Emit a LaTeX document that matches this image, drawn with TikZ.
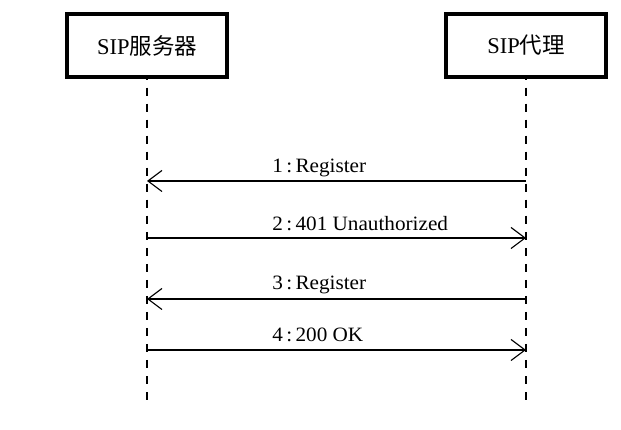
\documentclass[tikz,border=0pt]{standalone}
\usepackage{fontspec}
\setmainfont{Liberation Serif}
\newfontfamily\cjk{Noto Sans CJK SC}
\newfontfamily\msgfont[FakeStretch=1.04]{Liberation Serif}
\usetikzlibrary{arrows.meta}

\tikzset{
    entity/.style={draw, line width=2.2pt, minimum width=4cm, minimum height=1.575cm,
        inner sep=0pt, font=\fontsize{16}{19}\selectfont},
    lifeline/.style={line width=0.9pt, dash pattern=on 5.7pt off 5.7pt, dash phase=5pt},
    msg/.style={line width=0.8pt, -{Straight Barb[length=10pt,width=15pt]}},
    msglabel/.style={anchor=base west, inner sep=0pt, font=\msgfont\fontsize{14.5}{17}\selectfont}
}

\begin{document}
\begin{tikzpicture}
    \useasboundingbox (0,0) rectangle (15.525,10.75);
    % the two entities
    \node [entity] (server) at (3.675,9.6125) {SIP{\cjk 服务器}};
    \node [entity] (proxy) at (13.15,9.6125) {SIP{\cjk 代理}};
    \coordinate (serverend) at (3.675,0.75);
    \coordinate (proxyend) at (13.15,0.75);
    \draw [lifeline] (server.south) -- (serverend);
    \draw [lifeline] (proxy.south) -- (proxyend);
    % message points on the lifelines
    \coordinate (s1) at (3.675,6.225);
    \coordinate (p1) at (13.15,6.225);
    \coordinate (s2) at (3.675,4.8);
    \coordinate (p2) at (13.15,4.8);
    \coordinate (s3) at (3.675,3.275);
    \coordinate (p3) at (13.15,3.275);
    \coordinate (s4) at (3.675,2.0);
    \coordinate (p4) at (13.15,2.0);
    % messages
    \draw [msg] (p1) -- (s1);
    \node [msglabel] (m1) at (6.8,6.425) {1\,:\,Register};
    \draw [msg] (s2) -- (p2);
    \node [msglabel] (m2) at (6.8,4.98) {2\,:\,401 Unauthorized};
    \draw [msg] (p3) -- (s3);
    \node [msglabel] (m3) at (6.8,3.5) {3\,:\,Register};
    \draw [msg] (s4) -- (p4);
    \node [msglabel] (m4) at (6.8,2.2) {4\,:\,200 OK};
\end{tikzpicture}
\end{document}
